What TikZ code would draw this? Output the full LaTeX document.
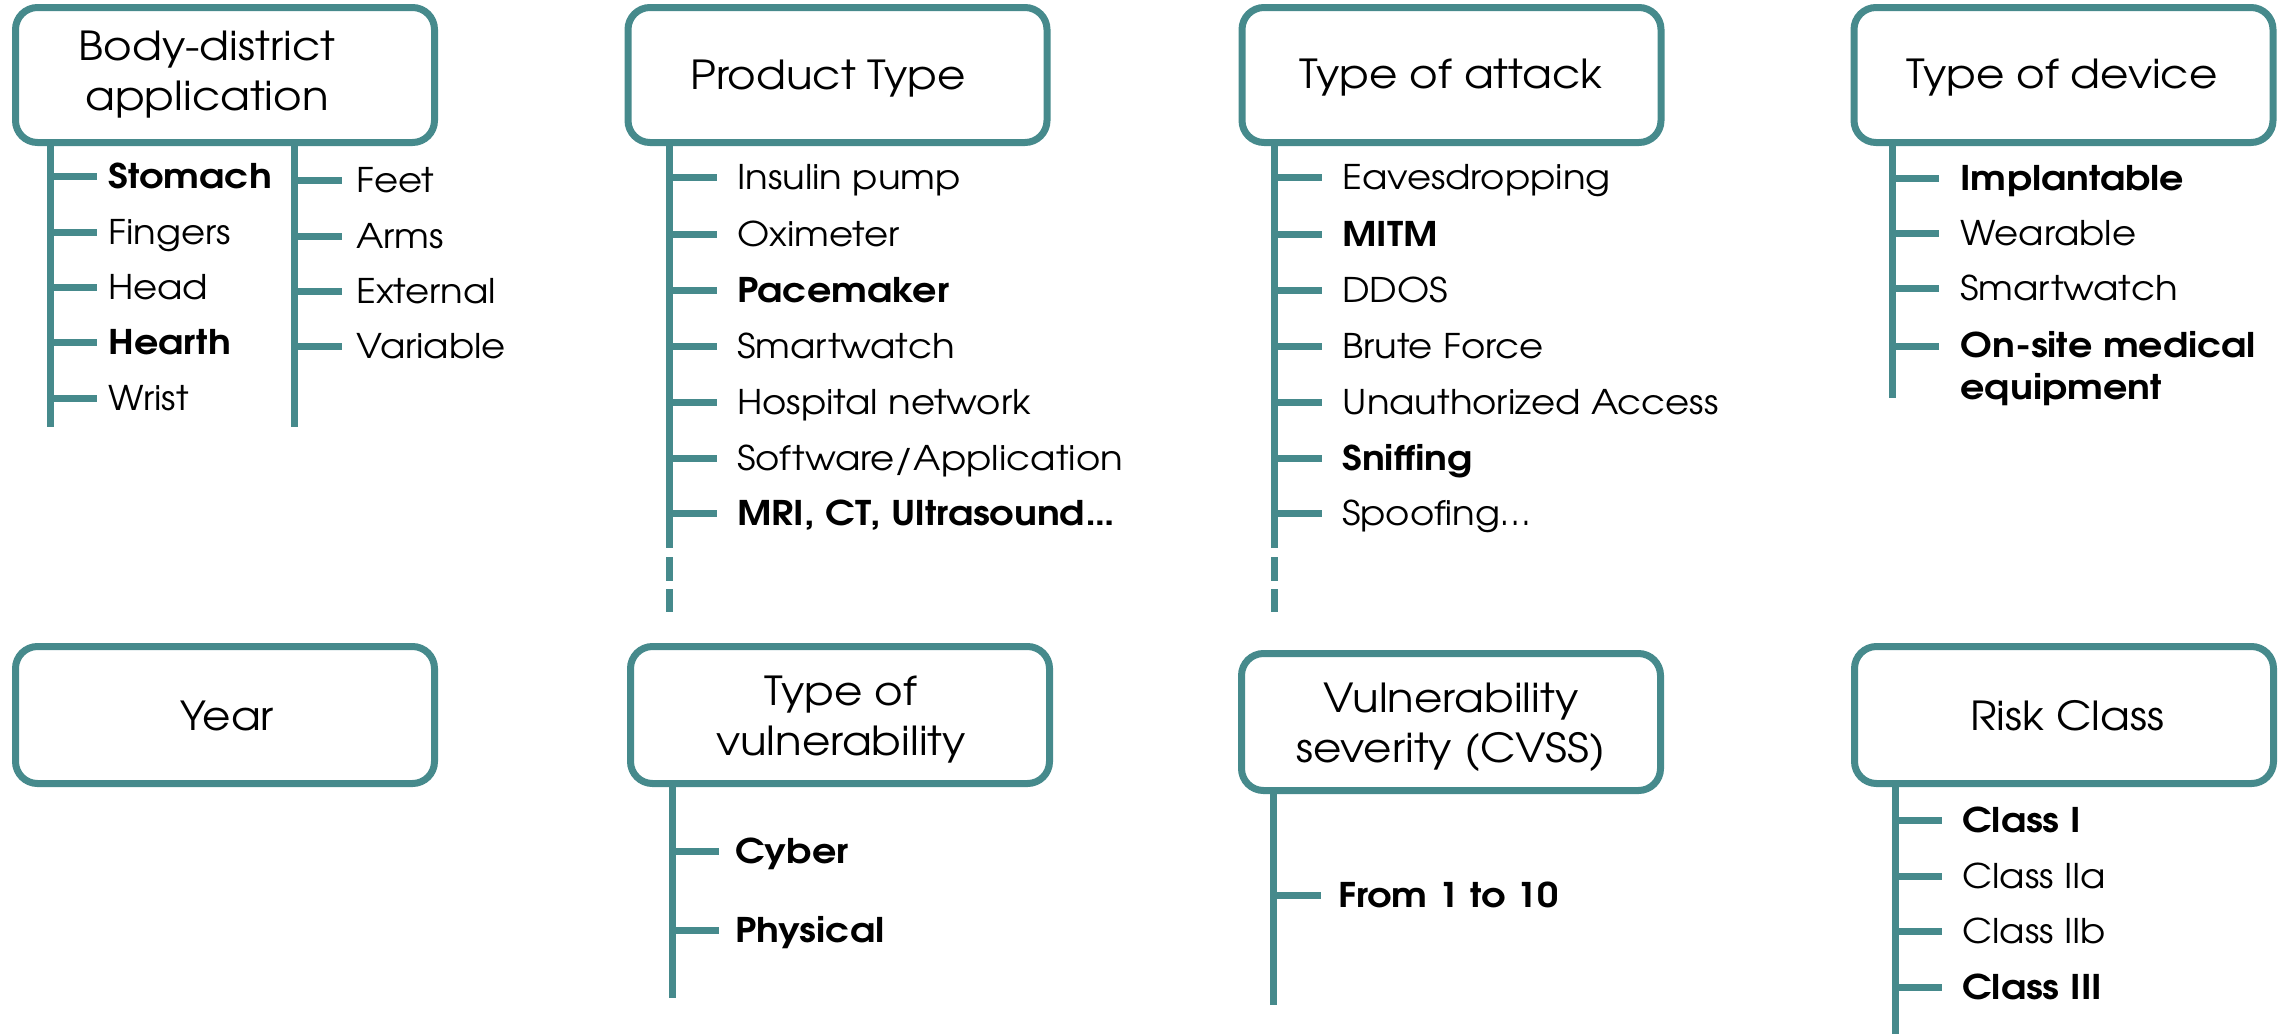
\documentclass[tikz,border=0pt]{standalone}
\usepackage{fontspec}
\setmainfont{TeX Gyre Adventor}[FakeStretch=1.09, BoldFeatures={FakeStretch=1.12}]
\usetikzlibrary{calc}
\definecolor{branch}{RGB}{70,138,140}

% items hanging from a stem: prefix, stem coordinate, text x, tick gap, list of y/text
\newcommand\branchitems[5]{%
  \foreach \iy/\itxt [count=\idx] in {#5} {
    \node[item] (#1\idx) at (#3,\iy) {\itxt};
    \draw[stem] (#2 |- #1\idx.west) -- ([xshift=-#4]#1\idx.west);
  }%
}

\begin{document}
\begin{tikzpicture}[x=1pt,y=-1pt,
  catbox/.style={draw=branch, line width=7pt, rounded corners=22pt,
    minimum width=419pt, minimum height=135pt, inner sep=0pt, outer sep=0pt},
  title/.style={font=\fontsize{40}{50}\selectfont, align=center, inner sep=0pt, anchor=base},
  item/.style={font=\fontsize{34}{42}\selectfont, inner sep=0pt,
    text height=25pt, text depth=0pt, anchor=west},
  stem/.style={draw=branch, line width=7pt},
  stemdash/.style={stem, dash pattern=on 24pt off 8pt}]

\useasboundingbox (0,0) rectangle (2280,1034);

% category boxes
\node[catbox] (b1) at (225,75) {};
\node[catbox] (b2) at (837.5,75) {};
\node[catbox] (b3) at (1451.5,75) {};
\node[catbox] (b4) at (2063.5,75) {};
\node[catbox, minimum height=137pt] (b5) at (225,715) {};
\node[catbox, minimum height=137pt] (b6) at (840,715) {};
\node[catbox, minimum height=137pt] (b7) at (1451,722) {};
\node[catbox, minimum height=137pt] (b8) at (2064,715) {};

% box titles (two-line titles are placed by the baseline of their last line)
\node[title] (t1) at (207,110) {Body-district\\application};
\node[title] (t2) at (828,89) {Product Type};
\node[title] (t3) at (1451,88) {Type of attack};
\node[title] (t4) at (2062,88) {Type of device};
\node[title] (t5) at (227,730) {Year};
\node[title] (t6) at (841,755) {Type of\\vulnerability};
\node[title] (t7) at (1451,762) {Vulnerability\\severity (CVSS)};
\node[title] (t8) at (2067,730) {Risk Class};

% stems
\coordinate (e1a) at (50,427);
\coordinate (e1b) at (294,427);
\coordinate (e2) at (669,548);
\coordinate (d2a) at (669,557);
\coordinate (d2b) at (669,612);
\coordinate (e3) at (1274,548);
\coordinate (d3a) at (1274,557);
\coordinate (d3b) at (1274,612);
\coordinate (e4) at (1892,398);
\coordinate (e6) at (672,998);
\coordinate (e7) at (1273,1005);
\coordinate (e8) at (1895,1034);

\draw[stem] (b1.south -| e1a) -- (e1a);
\draw[stem] (b1.south -| e1b) -- (e1b);
\draw[stem] (b2.south -| e2) -- (e2);
\draw[stemdash] (d2a) -- (d2b);
\draw[stem] (b3.south -| e3) -- (e3);
\draw[stemdash] (d3a) -- (d3b);
\draw[stem] (b4.south -| e4) -- (e4);
\draw[stem] (b6.south -| e6) -- (e6);
\draw[stem] (b7.south -| e7) -- (e7);
\draw[stem] (b8.south -| e8) -- (e8);

% items
\branchitems{ia}{e1a}{108}{11pt}{176/{\bfseries Stomach}, 232/Fingers, 287/Head,
  342/{\bfseries Hearth}, 398/Wrist}
\branchitems{ib}{e1b}{356}{14pt}{180/Feet, 236/Arms, 291/External, 346/Variable}
\branchitems{ic}{e2}{737}{20pt}{177/Insulin pump, 234/Oximeter, 290/{\bfseries Pacemaker},
  346/Smartwatch, 402/Hospital network, 458/{Software/Application},
  513/{\bfseries MRI, CT, Ultrasound…}}
\branchitems{id}{e3}{1342}{20pt}{177/Eavesdropping, 234/{\bfseries MITM}, 290/DDOS,
  346/Brute Force, 402/Unauthorized Access, 458/{\bfseries Sniffing}, 513/Spoofing…}
\branchitems{ie}{e4}{1960}{21pt}{178/{\bfseries Implantable}, 233/Wearable, 288/Smartwatch}
\node[font=\fontsize{34}{42}\selectfont\bfseries, inner sep=0pt, anchor=base west,
  align=left] (ie4) at (1960,399) {On-site medical\\equipment};
\coordinate (ie4m) at ([yshift=53pt]ie4.base west);
\draw[stem] (e4 |- ie4m) -- ([xshift=-21pt]ie4m);
\branchitems{if}{e6}{735}{16pt}{851/{\bfseries Cyber}, 930/{\bfseries Physical}}
\branchitems{ig}{e7}{1338}{17pt}{895/{\bfseries From 1 to 10}}
\branchitems{ih}{e8}{1962}{20pt}{820/{\bfseries Class I}, 876/Class IIa, 931/Class IIb,
  987/{\bfseries Class III}}

\end{tikzpicture}
\end{document}
